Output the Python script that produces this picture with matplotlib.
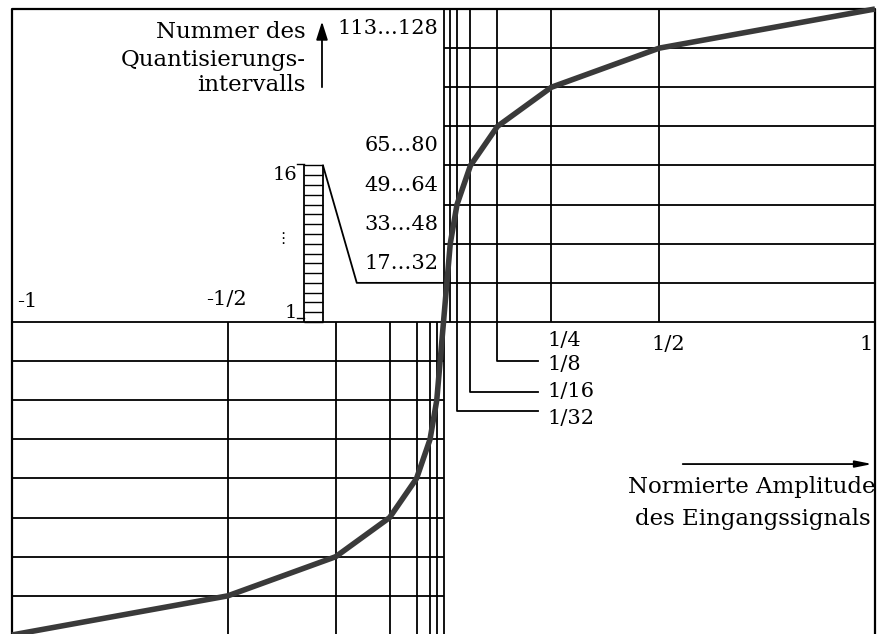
import numpy as np
import matplotlib
matplotlib.use('Agg')
import matplotlib.pyplot as plt

# Knickpunkte der 13-Segment-Kennlinie (A-Law)
x_knick = [-1, -1/2, -1/4, -1/8, -1/16, -1/32, -1/64, 1/64, 1/32, 1/16, 1/8, 1/4, 1/2, 1]
y_knick = [-128, -112, -96, -80, -64, -48, -32, 32, 48, 64, 80, 96, 112, 128]

# Gitter
x_gitter_pos = [0, 1/64, 1/32, 1/16, 1/8, 1/4, 1/2]
x_gitter_neg = [-1/2, -1/4, -1/8, -1/16, -1/32, -1/64, 0]
y_gitter = [16, 32, 48, 64, 80, 96, 112]

# Beschriftungen
y_labels = ['113…128', '65…80', '49…64', '33…48', '17…32']
y_label_werte = [120, 72, 56, 40, 24]
x_labels_oben = ['-1', '-1/2']
x_labels_unten = ['1/4', '1/2', '1']
leader_labels = ['1/8', '1/16', '1/32']
leader_x = [1/8, 1/16, 1/32]
leader_y = [-15.8, -28.5, -36.3]

plt.rcParams['font.family'] = ['DejaVu Serif', 'DejaVu Sans']
fs = 15
fs_wort = 16.5

fig = plt.figure(figsize=(8.77, 6.34), dpi=100)
ax = fig.add_axes([0, 0, 1, 1])
ax.set_xlim(-1.0278, 1.0046)
ax.set_ylim(-127.6, 131.68)
ax.axis('off')

lw = 1.3
# Rahmen
ax.plot([-1, -1, 1, 1], [-130, 128, 128, -130], color='black', lw=1.6)
ax.hlines(0, -1, 1, color='black', lw=lw)
# oberer rechter Quadrant
ax.vlines(x_gitter_pos, 0, 128, color='black', lw=lw)
ax.hlines(y_gitter, 0, 1, color='black', lw=lw)
# unterer linker Quadrant
ax.vlines(x_gitter_neg, -130, 0, color='black', lw=lw)
ax.hlines([-v for v in y_gitter], -1, 0, color='black', lw=lw)

# Kennlinie
ax.plot(x_knick, y_knick, color='#3a3a3a', lw=4.0, solid_capstyle='butt', zorder=5)

# Achsenbeschriftung Y
for txt, v in zip(y_labels, y_label_werte):
    ax.text(-0.012, v, txt, ha='right', va='center', fontsize=fs)
ax.text(-0.319, 118.5, 'Nummer des', ha='right', va='center', fontsize=fs_wort)
ax.text(-0.319, 107.3, 'Quantisierungs-', ha='right', va='center', fontsize=fs_wort)
ax.text(-0.319, 97.0, 'intervalls', ha='right', va='center', fontsize=fs_wort)
ax.annotate('', xy=(-0.2816, 124), xytext=(-0.2816, 94.9),
            arrowprops=dict(arrowstyle='-|>,head_length=1.1,head_width=0.35', color='black', lw=1.3))

# Achsenbeschriftung X
ax.text(-0.988, 8.5, x_labels_oben[0], ha='left', va='center', fontsize=fs)
ax.text(-0.503, 9, x_labels_oben[1], ha='center', va='center', fontsize=fs)
ax.text(0.24, -7.5, x_labels_unten[0], ha='left', va='center', fontsize=fs)
ax.text(0.52, -9.2, x_labels_unten[1], ha='center', va='center', fontsize=fs)
ax.text(0.979, -9.2, x_labels_unten[2], ha='center', va='center', fontsize=fs)
for txt, xv, yv in zip(leader_labels, leader_x, leader_y):
    ax.plot([xv, xv, 0.219], [0, yv, yv], color='black', lw=lw)
ax.text(0.24, -17.5, leader_labels[0], ha='left', va='center', fontsize=fs)
ax.text(0.24, -28.6, leader_labels[1], ha='left', va='center', fontsize=fs)
ax.text(0.24, -39.3, leader_labels[2], ha='left', va='center', fontsize=fs)

ax.annotate('', xy=(1.0, -58.1), xytext=(0.548, -58.1),
            arrowprops=dict(arrowstyle='-|>,head_length=1.0,head_width=0.2', color='black', lw=1.3))
ax.text(1.0, -67.5, 'Normierte Amplitude', ha='right', va='center', fontsize=fs_wort)
ax.text(0.99, -80.6, 'des Eingangssignals', ha='right', va='center', fontsize=fs_wort)

# Leiter mit den 16 Intervallen des ersten Segments
lx0, lx1 = -0.3233, -0.2793
stufen = np.arange(0, 65, 4)
ax.hlines(stufen, lx0, lx1, color='black', lw=1.0)
ax.vlines([lx0, lx1], 0, 64, color='black', lw=1.3)
ax.plot([-0.339, lx0], [64.5, 64.5], color='black', lw=1.0)
ax.plot([-0.339, lx0], [1.5, 1.5], color='black', lw=1.0)
ax.text(-0.339, 60, '16', ha='right', va='center', fontsize=fs - 1)
ax.text(-0.339, 3.5, '1', ha='right', va='center', fontsize=fs - 1)
ax.text(-0.372, 34, '⋮', ha='center', va='center', fontsize=fs - 4)
ax.plot([lx1, -0.201, 0], [64, 16, 16], color='black', lw=1.3)

fig.savefig('out.png', dpi=100)
